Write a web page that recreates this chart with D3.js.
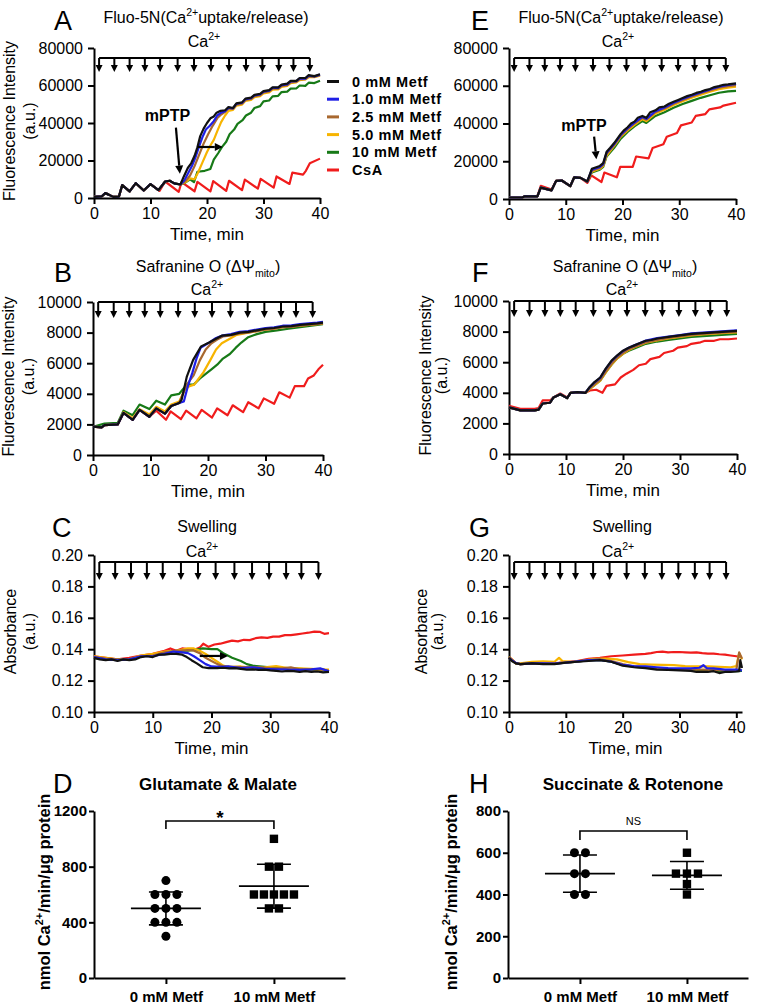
<!DOCTYPE html>
<html>
<head>
<meta charset="utf-8">
<script src="https://cdn.jsdelivr.net/npm/d3@7"></script>
<style>
body{margin:0;background:#fff}
text{font-family:"Liberation Sans",Arial,sans-serif;fill:#000}
</style>
</head>
<body>
<script>
// ---------- data ----------
const seriesNames = ["0 mM Metf","1.0 mM Metf","2.5 mM Metf","5.0 mM Metf","10 mM Metf","CsA"]
const seriesColors = ["#111111","#1f1fe6","#a8682f","#f7b400","#177a17","#f01c1c"]
const caAdd = [0.9,3.6,6.3,9.0,11.7,14.8,17.7,20.7,23.9,26.9,29.8,32.7,35.3,38.2]
const timeTicks = [0,10,20,30,40]

// A - Fluo-5N, glutamate & malate
const A_early = [[0,600],[1.4,900],[2.0,2600],[2.6,1800],[3.4,600],[4.4,700],[5.0,6900],[6.3,3500],[7.4,7900],[8.8,4000],[10.0,7400],[11.4,4200],[12.6,8800],[13.4,9200],[14.2,7800],[15.3,7200]]
const A_0 = A_early.concat([[15.9,11500],[16.6,16000],[17.2,18500],[17.8,22500],[18.3,27000],[18.8,33000],[19.4,37000],[20.0,40000],[20.6,42500],[21.2,43500],[21.7,45500],[22.4,46500],[23.2,46800],[23.8,48500],[24.6,48000],[25.2,50500],[26.2,51000],[26.8,53000],[27.8,53500],[28.4,55000],[29.4,55500],[30.0,57000],[31.0,57500],[31.6,59000],[32.6,59000],[33.2,60500],[34.2,61000],[34.8,62500],[35.8,62500],[36.4,64000],[37.4,64000],[38.0,65500],[39.0,65000],[40,66000]])
const A_1 = A_early.concat([[16.0,9500],[16.7,13500],[17.4,17500],[18.0,22000],[18.6,27500],[19.2,32500],[19.8,36500],[20.5,38500],[21.2,41000],[21.8,44000],[22.5,45500],[23.2,46300],[23.8,48200],[24.6,47800],[25.2,50200],[26.2,50800],[26.8,52700],[27.8,53200],[28.4,54700],[29.4,55200],[30.0,56700],[31.0,57200],[31.6,58700],[32.6,58700],[33.2,60200],[34.2,60600],[34.8,62200],[35.8,62300],[36.4,63800],[37.4,63600],[38.0,65200],[39.0,64800],[40,65800]])
const A_25 = A_early.concat([[16.2,9000],[17.0,12000],[17.8,17000],[18.6,23000],[19.4,29000],[20.2,34000],[21.0,38500],[21.8,42500],[22.5,44500],[23.2,46000],[23.8,47800],[24.6,47500],[25.2,49800],[26.2,50300],[26.8,52300],[27.8,52800],[28.4,54300],[29.4,54800],[30.0,56300],[31.0,56800],[31.6,58300],[32.6,58300],[33.2,59800],[34.2,60200],[34.8,61700],[35.8,62000],[36.4,63300],[37.4,63400],[38.0,64800],[39.0,64700],[40,65500]])
const A_5 = A_early.concat([[16.2,8500],[17.0,10500],[17.8,10000],[18.4,13500],[19.2,19000],[20.0,24500],[20.6,28000],[21.2,31000],[21.8,35500],[22.5,40500],[23.2,44000],[23.8,46500],[24.6,47000],[25.2,49300],[26.2,49800],[26.8,51800],[27.8,52300],[28.4,53800],[29.4,54300],[30.0,55800],[31.0,56300],[31.6,57800],[32.6,57900],[33.2,59300],[34.2,59800],[34.8,61200],[35.8,61700],[36.4,62900],[37.4,63200],[38.0,64400],[39.0,64500],[40,65300]])
const A_10 = A_early.concat([[16.2,8300],[17.0,10000],[17.7,8500],[18.3,14000],[19.6,14500],[20.6,15500],[21.2,20500],[22.0,24000],[22.6,27000],[23.4,30000],[24.0,34000],[24.8,36500],[25.4,39500],[26.3,41500],[26.9,44000],[27.8,45500],[28.4,48000],[29.4,49000],[30.0,51500],[31.0,52000],[31.6,54200],[32.6,54500],[33.2,56500],[34.2,56700],[34.8,58300],[35.8,58400],[36.4,60000],[37.4,59800],[38.0,61500],[39.0,61300],[40,62500]])
const A_csa = [[0,600],[1.4,900],[2.0,2600],[2.6,1800],[3.4,600],[4.4,700],[5.0,6900],[6.3,3500],[7.4,7900],[8.8,4000],[10.0,7400],[11.6,3800],[12.6,8800],[15.0,3300],[15.5,8500],[17.8,3600],[18.3,8600],[20.6,3500],[21.1,9000],[23.4,3800],[23.9,9200],[26.2,4200],[26.7,9800],[29.0,5000],[29.5,10200],[31.8,5500],[32.3,11500],[34.6,7500],[35.1,13500],[37.0,12500],[37.5,14500],[38.2,18500],[40,21000]]

// B - Safranine O, glutamate & malate
const B_early = [[0,1850],[1.5,1800],[2.0,1950],[4.3,2000],[5.3,2750],[6.9,2300],[8.1,2950],[9.8,2500],[11.0,3050],[12.5,2700],[13.6,3200],[15.0,3400]]
const B_0 = B_early.concat([[15.4,3600],[16.3,5100],[17.4,6200],[18.8,7100],[20.2,7350],[21.4,7600],[22.4,7800],[24.0,7850],[25.5,8000],[27.0,8050],[28.5,8150],[30.0,8250],[31.5,8300],[33.0,8400],[34.5,8420],[36.0,8500],[37.5,8550],[39.0,8600],[40,8650]])
const B_1 = B_early.concat([[15.8,3500],[16.5,4500],[17.3,5400],[18.0,6300],[18.7,7000],[20.0,7300],[21.4,7650],[22.4,7800],[24.0,7900],[25.5,8050],[27.0,8100],[28.5,8200],[30.0,8300],[31.5,8350],[33.0,8450],[34.5,8480],[36.0,8550],[37.5,8600],[39.0,8650],[40,8700]])
const B_25 = B_early.concat([[16.3,4600],[17.5,5200],[18.6,6200],[19.6,6900],[20.6,7300],[21.6,7550],[22.6,7750],[24.0,7820],[25.5,7950],[27.0,8000],[28.5,8100],[30.0,8200],[31.5,8250],[33.0,8350],[34.5,8380],[36.0,8450],[37.5,8500],[39.0,8550],[40,8600]])
const B_5 = [[0,1850],[1.5,1800],[2.0,1950],[4.3,2000],[5.3,2800],[6.9,2400],[8.1,3000],[9.8,2650],[11.0,3150],[12.5,2850],[13.6,3300],[15.0,3500],[16.0,4300],[16.8,4500],[17.6,4600],[18.4,5000],[19.2,5400],[20.4,6200],[21.4,6900],[22.4,7300],[23.8,7600],[25.0,7850],[27.0,8000],[28.5,8100],[30.0,8200],[31.5,8250],[33.0,8350],[34.5,8400],[36.0,8450],[37.5,8500],[39.0,8550],[40,8600]]
const B_10 = [[0,1850],[2.0,2050],[4.3,2100],[5.3,2900],[6.9,2600],[8.1,3300],[9.8,3000],[11.0,3550],[12.5,3300],[13.6,3900],[15.0,4000],[16.3,4600],[17.5,4600],[18.6,5000],[19.6,5300],[20.6,5600],[21.6,5900],[22.6,6300],[23.8,6600],[24.8,7000],[25.8,7350],[27.0,7700],[28.5,7900],[30.0,8050],[32.0,8150],[34.0,8250],[36.0,8350],[38.0,8450],[40,8550]]
const B_csa = [[0,1850],[1.5,1800],[2.0,1950],[4.3,2000],[5.3,2750],[6.9,2300],[8.1,2950],[9.8,2500],[11.0,2900],[12.7,2300],[13.5,2850],[15.3,2350],[16.2,2900],[18.0,2400],[18.9,2950],[20.7,2450],[21.6,3050],[23.4,2600],[24.3,3250],[26.1,2800],[27.0,3450],[28.8,3050],[29.7,3700],[31.5,3350],[32.4,4100],[34.2,3750],[35.1,4500],[36.7,4500],[37.4,5000],[38.4,5200],[39.2,5600],[40,5900]]

// C - swelling, glutamate & malate
const C_0 = [[0,0.1345],[1,0.1335],[2,0.133],[3,0.1335],[4,0.1325],[5,0.1335],[6,0.133],[7,0.1335],[8,0.135],[9,0.1355],[10,0.135],[11,0.1365],[12,0.1365],[13,0.137],[14,0.137],[15,0.1365],[15.8,0.135],[16.6,0.133],[17.5,0.131],[18.5,0.1285],[19.5,0.128],[21,0.128],[22,0.1282],[23,0.1278],[24,0.128],[25,0.1275],[26,0.127],[27,0.1272],[28,0.1268],[29,0.127],[30,0.1265],[31,0.1262],[32,0.1258],[33,0.1262],[34,0.126],[35,0.1255],[36,0.126],[37,0.1255],[38,0.1258],[39,0.1252],[40,0.1255]]
const C_1 = [[0,0.135],[2,0.1335],[4,0.133],[6,0.1335],[8,0.1355],[10,0.1355],[12,0.137],[13.5,0.1385],[15,0.138],[16,0.1375],[17,0.1355],[18,0.133],[19,0.1305],[20,0.129],[21.5,0.1288],[23,0.129],[25,0.128],[27,0.1285],[29,0.1275],[31,0.1272],[33,0.127],[35,0.1268],[37,0.1272],[38.5,0.1278],[40,0.126]]
const C_25 = [[0,0.135],[2,0.134],[4,0.1335],[6,0.1335],[8,0.1355],[10,0.136],[12,0.138],[14,0.139],[16,0.1395],[17,0.139],[18,0.1375],[19,0.1345],[20,0.1325],[21,0.1305],[22,0.129],[24,0.1288],[26,0.1285],[28,0.1285],[30,0.128],[32,0.1278],[33.5,0.1285],[35,0.1272],[37,0.1272],[39,0.127],[40,0.126]]
const C_5 = [[0,0.1355],[2,0.1345],[4,0.1335],[6,0.1335],[8,0.136],[10,0.137],[12,0.1385],[14,0.139],[16,0.1405],[17,0.1405],[18,0.139],[19,0.137],[20,0.1345],[21,0.132],[22,0.1295],[23,0.1285],[25,0.129],[27,0.1282],[29,0.1285],[31,0.1292],[33,0.128],[35,0.1278],[37,0.1275],[39,0.127],[40,0.127]]
const C_10 = [[0,0.1345],[2,0.1335],[4,0.1335],[6,0.1335],[8,0.1355],[10,0.136],[12,0.138],[14,0.139],[16,0.139],[17,0.1395],[18.5,0.1405],[20,0.14],[21,0.14],[22,0.1375],[23.5,0.1345],[25,0.1325],[26,0.1305],[27,0.1295],[29,0.1288],[31,0.1282],[33,0.128],[35,0.1275],[37,0.127],[39,0.1265],[40,0.1262]]
const C_csa = [[0,0.1355],[2,0.1345],[4,0.1335],[6,0.1345],[8,0.136],[10,0.137],[12,0.139],[13,0.1405],[14,0.139],[15,0.1405],[16,0.14],[17,0.1395],[18,0.141],[18.6,0.1435],[19.5,0.1415],[20.5,0.143],[21.5,0.1435],[22.5,0.1445],[23.5,0.1455],[24.5,0.145],[25.5,0.146],[26.5,0.1458],[27.5,0.147],[28.5,0.1475],[29.5,0.1472],[30.5,0.148],[31.5,0.148],[32.5,0.149],[33.5,0.149],[34.5,0.1495],[35.5,0.15],[36.5,0.1505],[37.5,0.1512],[38.5,0.151],[39.2,0.1498],[40,0.1502]]

// E - Fluo-5N, succinate & rotenone
const E_early = [[0,800],[2.4,900],[2.8,1400],[5.0,1400],[5.6,6000],[7.5,4600],[8.3,9600],[9.3,9800],[10.8,6800],[11.5,11500],[12.6,11200],[13.8,9300]]
const E_0 = E_early.concat([[14.6,16000],[16.0,17500],[16.6,19000],[17.2,25000],[17.8,27000],[18.5,29500],[19.1,32000],[19.7,34500],[20.3,36500],[20.9,38000],[21.5,40000],[22.1,41000],[22.7,43000],[23.5,44000],[24.2,43000],[24.9,46000],[25.8,47000],[26.5,48500],[27.4,49000],[28.2,50500],[29.0,51500],[29.8,52500],[30.6,53500],[31.4,54500],[32.2,55200],[33.0,56200],[33.8,56800],[34.6,57700],[35.4,58300],[36.2,59300],[37.0,59800],[37.8,60500],[38.6,60700],[40,61300]])
const E_1 = E_early.concat([[14.6,15500],[16.0,17000],[16.6,18500],[17.2,24500],[18.5,29000],[19.7,34000],[20.9,37500],[22.1,40500],[23.5,43500],[24.2,42500],[25.8,46500],[27.4,48500],[29.0,51000],[30.6,53000],[32.2,54800],[33.8,56400],[35.4,58000],[37.0,59500],[38.6,60400],[40,61000]])
const E_25 = E_early.concat([[14.6,15000],[16.0,16500],[16.6,18000],[17.2,24000],[18.5,28500],[19.7,33500],[20.9,37000],[22.1,40000],[23.5,43000],[24.2,42000],[25.8,46000],[27.4,48000],[29.0,50500],[30.6,52500],[32.2,54300],[33.8,56000],[35.4,57500],[37.0,59000],[38.6,59800],[40,60300]])
const E_5 = E_early.concat([[14.6,14500],[16.0,16000],[16.6,17500],[17.2,23000],[18.5,28000],[19.7,33000],[20.9,36300],[22.1,39300],[23.5,42300],[24.2,41300],[25.8,45300],[27.4,47300],[29.0,49800],[30.6,51800],[32.2,53600],[33.8,55300],[35.4,56800],[37.0,58200],[38.6,59000],[40,59500]])
const E_10 = E_early.concat([[14.6,14000],[16.0,15500],[16.6,17000],[17.2,22500],[18.5,27000],[19.7,32000],[20.9,35500],[22.1,38500],[23.5,41300],[24.2,40300],[25.8,44000],[27.4,46000],[29.0,48300],[30.6,50300],[32.2,52000],[33.8,53600],[35.4,55000],[37.0,56300],[38.6,57000],[40,57300]])
const E_csa = [[0,800],[2.4,900],[2.8,1400],[5.0,1400],[5.6,7000],[7.5,5000],[8.3,9600],[9.3,9800],[10.8,6800],[11.5,11500],[12.6,11200],[13.8,8500],[14.5,12500],[16.3,9000],[16.8,14000],[19.0,11500],[19.6,17000],[21.8,17000],[22.4,22500],[24.6,21500],[25.3,27000],[27.2,29000],[27.8,33000],[29.6,35000],[30.3,39000],[32.2,40500],[32.9,44000],[34.6,45000],[35.3,47500],[37.2,48500],[37.8,49500],[40,51000]]

// F - Safranine O, succinate & rotenone
const F_early = [[0,3050],[1.0,2950],[2.0,2850],[4.5,2850],[5.2,2900],[5.9,3300],[7.2,3350],[7.8,3700],[9.0,3900],[10.2,3650],[10.8,4000],[12.0,4050],[13.4,4000]]
const F_0 = F_early.concat([[14.2,4400],[15.0,4700],[16.0,5000],[17.0,5600],[18.0,6100],[19.0,6450],[20.0,6750],[21.0,6950],[22.0,7100],[23.0,7250],[24.0,7400],[25.0,7450],[26.0,7550],[27,7600],[28,7650],[29,7700],[30,7750],[32,7850],[34,7900],[36,7950],[38,8000],[40,8050]])
const F_1 = F_early.concat([[14.2,4380],[15.0,4680],[16.0,4980],[17.0,5580],[18.0,6080],[19.0,6430],[20.0,6730],[21.0,6940],[22.0,7100],[23.0,7260],[24.0,7410],[26.0,7570],[28,7680],[30,7780],[32,7880],[34,7930],[36,7980],[38,8030],[40,8080]])
const F_25 = F_early.concat([[14.2,4300],[15.0,4550],[16.0,4850],[17.0,5400],[18.0,5900],[19.0,6300],[20.0,6600],[21.0,6850],[22.0,7000],[24.0,7300],[26.0,7450],[28,7580],[30,7680],[32,7780],[34,7850],[36,7900],[38,7950],[40,7980]])
const F_5 = F_early.concat([[14.2,4250],[15.0,4500],[16.0,4800],[17.0,5350],[18.0,5850],[19.0,6250],[20.0,6550],[21.0,6800],[22.0,6980],[24.0,7280],[26.0,7420],[28,7550],[30,7650],[32,7750],[34,7820],[36,7870],[38,7920],[40,7950]])
const F_10 = F_early.concat([[14.2,4250],[15.0,4500],[16.0,4800],[17.0,5350],[18.0,5850],[19.0,6250],[20.0,6550],[21.0,6750],[22.0,6900],[24.0,7200],[26.0,7350],[28,7450],[30,7550],[32,7650],[34,7700],[36,7750],[38,7800],[40,7850]])
const F_csa = [[0,3150],[1.0,3050],[2.0,2950],[4.5,2950],[5.2,3000],[5.9,3500],[7.2,3500],[7.8,3700],[9.0,3950],[10.2,3700],[10.8,4000],[12.0,4050],[13.4,4000],[14.2,4150],[15.3,4200],[16.4,4000],[17.1,4450],[18.6,4550],[19.6,5000],[20.6,5250],[21.8,5500],[22.8,5800],[24.0,5900],[24.8,6200],[26.4,6350],[27.2,6600],[28.8,6750],[29.6,6950],[31.2,7050],[32.0,7200],[33.6,7300],[34.4,7400],[36.0,7400],[37.0,7500],[38.5,7500],[40,7550]]

// G - swelling, succinate & rotenone
const G_0 = [[0,0.1345],[0.5,0.1325],[1.2,0.131],[2,0.1305],[4,0.131],[6,0.1305],[8,0.1305],[9,0.131],[10,0.1315],[12,0.132],[14,0.1325],[16,0.133],[18,0.132],[20,0.1295],[22,0.1285],[24,0.128],[26,0.127],[28,0.1268],[30,0.1265],[32,0.1262],[33,0.1255],[35,0.1255],[36,0.126],[37,0.1248],[38,0.1255],[39,0.1255],[40,0.1258],[40.5,0.126],[40.7,0.133],[41,0.128]]
const G_1 = [[0,0.1345],[0.5,0.133],[1.2,0.1312],[2,0.1305],[4,0.131],[6,0.131],[8,0.1308],[10,0.1315],[12,0.1322],[14,0.133],[16,0.1332],[18,0.132],[20,0.130],[22,0.1292],[24,0.129],[26,0.1285],[28,0.128],[30,0.1278],[32,0.1278],[33.5,0.1282],[34.2,0.1298],[34.8,0.128],[36,0.1278],[38,0.127],[40,0.127],[41,0.1265]]
const G_25 = [[0,0.135],[0.5,0.133],[1.2,0.131],[2,0.1305],[4,0.131],[6,0.131],[8,0.131],[10,0.1315],[12,0.132],[14,0.133],[16,0.1335],[18,0.1325],[20,0.1305],[22,0.129],[24,0.1285],[26,0.128],[28,0.1275],[30,0.1272],[32,0.127],[34,0.127],[36,0.1268],[38,0.1265],[40,0.1268],[40.5,0.138],[41,0.134]]
const G_5 = [[0,0.135],[0.5,0.1335],[1.2,0.131],[2,0.131],[4,0.132],[6,0.1322],[8,0.132],[8.8,0.1345],[9.4,0.1325],[11,0.132],[13,0.1328],[15,0.1338],[17,0.134],[19,0.1335],[21,0.1318],[23,0.1305],[25,0.1302],[27,0.13],[29,0.1298],[31,0.1292],[33,0.129],[35,0.129],[37,0.1288],[39,0.1285],[40,0.1292],[40.5,0.1375],[41,0.1335]]
const G_10 = [[0,0.135],[0.5,0.133],[1.2,0.131],[2,0.1305],[4,0.131],[6,0.131],[8,0.131],[10,0.1315],[12,0.132],[14,0.133],[16,0.1332],[18,0.132],[20,0.13],[22,0.1288],[24,0.1282],[26,0.1278],[28,0.1272],[30,0.127],[32,0.1268],[34,0.1265],[36,0.1262],[38,0.126],[40,0.126],[41,0.1262]]
const G_csa = [[0,0.135],[0.5,0.1335],[1.2,0.131],[2,0.1305],[4,0.131],[6,0.131],[8,0.131],[10,0.1318],[12,0.1325],[14,0.1338],[16,0.1345],[18,0.1355],[20,0.136],[22,0.1365],[24,0.137],[25,0.1375],[26,0.1382],[27,0.1385],[28,0.138],[29,0.1382],[30,0.1382],[31,0.138],[32,0.1378],[33,0.138],[34,0.1375],[35,0.1372],[36,0.1372],[37,0.1368],[38,0.1365],[39,0.136],[40,0.1355],[41,0.135]]

// D / H - Ca2+ uptake rates
const rateGroups = ["0 mM Metf","10 mM Metf"]
const D_ctrl = [700,600,600,600,500,500,500,400,400,400,300]
const D_metf = [1000,800,800,600,600,600,600,600,500,500]
const H_ctrl = [600,600,500,500,400,400]
const H_metf = [600,500,500,500,450,400]

// ---------- drawing ----------
const svg = d3.select("body").append("svg")
              .attr("width",760)
              .attr("height",1005)
              .style("background-color","white")

const wideFont = "'DejaVu Sans',sans-serif"

function richText(g, x, y, parts, o) {
  const t = g.append("text").attr("x",x).attr("y",y)
             .attr("text-anchor",o.anchor || "middle")
             .attr("font-size",o.size)
             .attr("font-weight",o.weight || "normal")
             .attr("letter-spacing",o.ls || 0)
  if (o.family) t.attr("font-family",o.family)
  if (o.rotate) t.attr("transform",`rotate(-90,${x},${y})`)
  let shift = 0
  parts.forEach(p => {
    const s = typeof p === "string" ? {t:p} : p
    const target = s.sup ? -o.size*0.42 : s.sub ? o.size*0.3 : 0
    const ts = t.append("tspan").text(s.t).attr("dy",target - shift)
    if (s.sup || s.sub) ts.attr("font-size",o.size*0.66)
    shift = target
  })
  return t
}

function styleAxis(g, size, weight) {
  g.select(".domain").attr("stroke","#000").attr("stroke-width",2)
  g.selectAll(".tick line").attr("stroke","#000").attr("stroke-width",2)
  g.selectAll(".tick text").attr("font-size",size).attr("font-weight",weight || "normal")
   .attr("font-family","'Liberation Sans',Arial,sans-serif").attr("fill","#000")
}

function timePanel(p, data) {
  const g = svg.append("g")
  const x = d3.scaleLinear().domain([0,p.xmax]).range([p.x0,p.x1])
  const y = d3.scaleLinear().domain(p.ydom).range([p.y0,p.y1])

  const ax = g.append("g").attr("transform",`translate(0,${p.y0})`)
              .call(d3.axisBottom(x).tickValues(timeTicks).tickSize(6).tickSizeOuter(0).tickPadding(4))
  styleAxis(ax,16)
  const ay = g.append("g").attr("transform",`translate(${p.x0},0)`)
              .call(d3.axisLeft(y).tickValues(p.yticks).tickSize(6).tickSizeOuter(0).tickPadding(5).tickFormat(p.fmt))
  styleAxis(ay,16)

  const line = d3.line().x(d => x(d[0])).y(d => y(d[1]))
  // CsA first, black last so it sits on top
  const order = [5,4,3,2,1,0]
  order.forEach(i => {
    g.append("path").datum(data[i]).attr("d",line)
     .attr("fill","none").attr("stroke",seriesColors[i])
     .attr("stroke-width",2.2).attr("stroke-linejoin","round")
  })

  // Ca2+ additions
  const by = p.y1 + p.brOff
  g.append("line").attr("x1",x(caAdd[0])).attr("x2",x(caAdd[caAdd.length-1]))
   .attr("y1",by).attr("y2",by).attr("stroke","#000").attr("stroke-width",2)
  caAdd.forEach(t => {
    const cx = x(t)
    g.append("line").attr("x1",cx).attr("x2",cx).attr("y1",by).attr("y2",by+p.arLen-6)
     .attr("stroke","#000").attr("stroke-width",2)
    g.append("path").attr("d",`M${cx-3.5},${by+p.arLen-7}L${cx+3.5},${by+p.arLen-7}L${cx},${by+p.arLen}Z`)
     .attr("fill","#000")
  })
  richText(g,p.caX,p.caY,["Ca",{t:"2+",sup:true}],{size:16})

  richText(g,p.titleX,p.titleY,p.title,{size:16,family:wideFont})
  g.append("text").attr("x",p.letterX).attr("y",p.letterY).attr("font-size",27)
   .attr("font-family",wideFont).attr("font-weight",300).text(p.letter)
  if (p.ylab) {
    const cy = (p.y0+p.y1)/2 - 2
    p.ylab.forEach((s,i) => richText(g,p.ylabX[i],cy,[s],{size:16,rotate:true}))
  }
  g.append("text").attr("x",(p.x0+p.x1)/2).attr("y",p.y0+42).attr("text-anchor","middle")
   .attr("font-size",17).text("Time, min")
  return {g,x,y}
}

function arrow(g, x1, y1, x2, y2) {
  const a = Math.atan2(y2-y1,x2-x1), L = 8, W = 4
  const bx = x2 - L*Math.cos(a), by = y2 - L*Math.sin(a)
  g.append("line").attr("x1",x1).attr("y1",y1).attr("x2",bx).attr("y2",by)
   .attr("stroke","#000").attr("stroke-width",2.2)
  g.append("path").attr("fill","#000")
   .attr("d",`M${x2},${y2}L${bx - W*Math.sin(a)},${by + W*Math.cos(a)}L${bx + W*Math.sin(a)},${by - W*Math.cos(a)}Z`)
}

const fmtK = d3.format("d")
const fmt2 = d3.format(".2f")
const fluoTicks = [0,20000,40000,60000,80000]
const safTicks = [0,2000,4000,6000,8000,10000]
const absTicks = [0.10,0.12,0.14,0.16,0.18,0.20]
const fluoTitle = ["Fluo-5N(Ca",{t:"2+",sup:true},"uptake/release)"]
const safTitle = ["Safranine O (ΔΨ",{t:"mito",sub:true},")"]

const pA = timePanel({x0:94,x1:320,y0:198,y1:48,xmax:40,ydom:[0,80000],yticks:fluoTicks,fmt:fmtK,
  brOff:10,arLen:14,caX:204,caY:47,title:fluoTitle,titleX:206,titleY:23,
  letter:"A",letterX:54,letterY:30,ylab:["Fluorescence Intensity","(a.u.)"],ylabX:[15,35]},
  [A_0,A_1,A_25,A_5,A_10,A_csa])
const pB = timePanel({x0:93,x1:323,y0:455,y1:302,xmax:40,ydom:[0,10000],yticks:safTicks,fmt:fmtK,
  brOff:0,arLen:16,caX:207,caY:295,title:safTitle,titleX:208,titleY:272,
  letter:"B",letterX:54,letterY:282,ylab:["Fluorescence Intensity","(a.u.)"],ylabX:[14,34]},
  [B_0,B_1,B_25,B_5,B_10,B_csa])
const pC = timePanel({x0:94,x1:329,y0:712,y1:555,xmax:40,ydom:[0.10,0.20],yticks:absTicks,fmt:fmt2,
  brOff:7,arLen:18,caX:202,caY:557,title:["Swelling"],titleX:207,titleY:532,
  letter:"C",letterX:52,letterY:537,ylab:["Absorbance","(a.u.)"],ylabX:[16,35]},
  [C_0,C_1,C_25,C_5,C_10,C_csa])
const pE = timePanel({x0:509,x1:736,y0:199,y1:48,xmax:40,ydom:[0,80000],yticks:fluoTicks,fmt:fmtK,
  brOff:10,arLen:14,caX:618,caY:47,title:fluoTitle,titleX:621,titleY:23,
  letter:"E",letterX:471,letterY:30},
  [E_0,E_1,E_25,E_5,E_10,E_csa])
const pF = timePanel({x0:509,x1:737,y0:454,y1:301,xmax:40,ydom:[0,10000],yticks:safTicks,fmt:fmtK,
  brOff:0,arLen:16,caX:622,caY:295,title:safTitle,titleX:625,titleY:272,
  letter:"F",letterX:472,letterY:282,ylab:["Fluorescence Intensity","(a.u.)"],ylabX:[431,447]},
  [F_0,F_1,F_25,F_5,F_10,F_csa])
const pG = timePanel({x0:509,x1:742,y0:712,y1:555,xmax:41,ydom:[0.10,0.20],yticks:absTicks,fmt:fmt2,
  brOff:7,arLen:18,caX:618,caY:557,title:["Swelling"],titleX:622,titleY:532,
  letter:"G",letterX:469,letterY:537,ylab:["Absorbance","(a.u.)"],ylabX:[427,443]},
  [G_0,G_1,G_25,G_5,G_10,G_csa])

// mPTP annotations
richText(pA.g,pA.x(13.0),pA.y(41000),["mPTP"],{size:16,weight:"bold"})
arrow(pA.g,pA.x(14.5),pA.y(37500),pA.x(15.2),pA.y(13000))
arrow(pA.g,pA.x(18.3),pA.y(27200),pA.x(22.8),pA.y(27200))
richText(pE.g,pE.x(13.2),pE.y(36000),["mPTP"],{size:16,weight:"bold"})
arrow(pE.g,pE.x(15.0),pE.y(33000),pE.x(15.4),pE.y(21000))
arrow(pC.g,pC.x(18.0),pC.y(0.1357),pC.x(22.8),pC.y(0.1357))

// legend
const leg = svg.append("g")
seriesNames.forEach((s,i) => {
  const yy = 81.5 + i*17.7
  leg.append("line").attr("x1",327).attr("x2",339).attr("y1",yy).attr("y2",yy)
     .attr("stroke",seriesColors[i]).attr("stroke-width",3)
  leg.append("text").attr("x",352).attr("y",yy+5).attr("font-size",14.5)
     .attr("font-weight","bold").attr("letter-spacing",0.6).text(s)
})

// scatter panels
function ratePanel(p, ctrl, metf) {
  const g = svg.append("g")
  const y = d3.scaleLinear().domain([0,p.ymax]).range([978,811])
  const x = d3.scalePoint().domain(rateGroups).range([p.ax0,p.ax1]).padding(p.pad).align(p.align)
  const ay = g.append("g").attr("transform",`translate(${p.ax0},0)`)
              .call(d3.axisLeft(y).tickValues(p.yticks).tickSize(5).tickSizeOuter(0).tickPadding(2).tickFormat(d3.format("d")))
  styleAxis(ay,15,"bold")
  const ax = g.append("g").attr("transform","translate(0,978)")
              .call(d3.axisBottom(x).tickSize(6).tickSizeOuter(0).tickPadding(7))
  styleAxis(ax,15,"bold")

  ;[ctrl,metf].forEach((vals,gi) => {
    const cx = x(rateGroups[gi])
    const rows = d3.rollup(vals, v => v.length, v => v)
    rows.forEach((n,val) => {
      for (let k=0;k<n;k++) {
        const px = cx + (k-(n-1)/2)*p.spacing[gi]
        if (gi===0) g.append("circle").attr("cx",px).attr("cy",y(val)).attr("r",4.5).attr("fill","#000")
        else g.append("rect").attr("x",px-4.2).attr("y",y(val)-4.2).attr("width",8.4).attr("height",8.4).attr("fill","#000")
      }
    })
    const m = d3.mean(vals), sd = d3.deviation(vals)
    const seg = (x1,y1,x2,y2) => g.append("line").attr("x1",x1).attr("y1",y1).attr("x2",x2).attr("y2",y2)
                                   .attr("stroke","#000").attr("stroke-width",1.6)
    seg(cx-35,y(m),cx+35,y(m))
    seg(cx-17,y(m+sd),cx+17,y(m+sd))
    seg(cx-17,y(m-sd),cx+17,y(m-sd))
    seg(cx,y(m+sd),cx,y(m-sd))
  })

  const bx0 = x(rateGroups[0]), bx1 = x(rateGroups[1])
  g.append("path").attr("d",`M${bx0},${p.brY+p.brH}V${p.brY}H${bx1}V${p.brY+p.brH}`)
   .attr("fill","none").attr("stroke","#000").attr("stroke-width",1.6)
  g.append("text").attr("x",(bx0+bx1)/2).attr("y",p.sigY).attr("text-anchor","middle")
   .attr("font-size",p.sigSize).attr("font-weight",p.sigWeight).text(p.sig)

  richText(g,p.titleX,790,[p.title],{size:17,weight:"bold"})
  g.append("text").attr("x",p.letterX).attr("y",793).attr("font-size",27)
   .attr("font-family",wideFont).attr("font-weight",300).text(p.letter)
  richText(g,p.ylabX,892,["nmol Ca",{t:"2+",sup:true},"/min/μg protein"],{size:16.5,weight:"bold",rotate:true})
}

ratePanel({ymax:1200,yticks:[0,400,800,1200],ax0:94,ax1:345,pad:0.662,align:0.503,spacing:[11,10],
  brY:821,brH:8,sig:"*",sigY:824,sigSize:19,sigWeight:"bold",title:"Glutamate & Malate",titleX:218,
  letter:"D",letterX:53,ylabX:50}, D_ctrl, D_metf)
ratePanel({ymax:800,yticks:[0,200,400,600,800],ax0:508,ax1:748,pad:0.6215,align:0.541,spacing:[11,11],
  brY:831,brH:9,sig:"NS",sigY:825,sigSize:11,sigWeight:"normal",title:"Succinate & Rotenone",titleX:633,
  letter:"H",letterX:469,ylabX:457}, H_ctrl, H_metf)
</script>
</body>
</html>
